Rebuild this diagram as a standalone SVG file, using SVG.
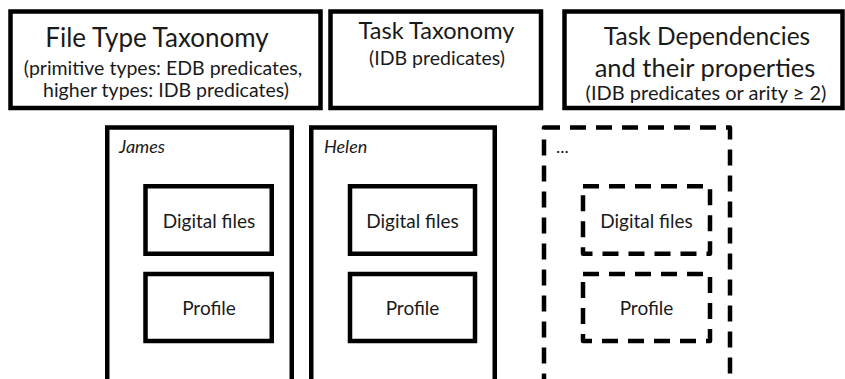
<svg xmlns="http://www.w3.org/2000/svg" width="845" height="379" viewBox="0 0 845 379">
<style>
.b{fill:#fff;stroke:#000;stroke-width:4.5}
.d{fill:#fff;stroke:#000;stroke-width:4.5;stroke-dasharray:16 10;stroke-linejoin:round}
text{font-family:Lato,"Open Sans","Liberation Sans",sans-serif;fill:#1a1a1a;text-anchor:middle}
.t{font-size:25px}
.s{font-size:19.5px}
.i{font-size:19px}
.n{font-size:18px;font-style:italic;text-anchor:start}
</style>
<rect width="845" height="379" fill="#fff"/>
<g id="file-type-taxonomy">
<rect class="b" x="10.5" y="11.5" width="310" height="96.5"/>
<text class="t" x="157" y="47" style="font-size:26px">File Type Taxonomy</text>
<text class="s" x="163" y="75">(primitive types: EDB predicates,</text>
<text class="s" x="166" y="97">higher types: IDB predicates)</text>
</g>
<g id="task-taxonomy">
<rect class="b" x="330.5" y="11.5" width="210.5" height="96.5"/>
<text class="t" x="436.5" y="39" style="font-size:23.6px">Task Taxonomy</text>
<text class="s" x="437" y="65">(IDB predicates)</text>
</g>
<g id="task-dependencies">
<rect class="b" x="564.5" y="11.5" width="278" height="96.5"/>
<text class="t" x="707" y="45" style="font-size:24.5px">Task Dependencies</text>
<text class="t" x="705" y="77" style="font-size:25.5px">and their properties</text>
<text class="s" x="706" y="99.5" style="font-size:20px">(IDB predicates or arity ≥ 2)</text>
</g>
<g id="james">
<rect class="b" x="107.25" y="127.5" width="184.5" height="270"/>
<text class="n" x="119" y="153">James</text>
</g>
<g id="james-digital-files">
<rect class="b" x="145.5" y="186.25" width="126.25" height="67.5"/>
<text class="i" x="209" y="228">Digital files</text>
</g>
<g id="james-profile">
<rect class="b" x="145.5" y="274" width="126.25" height="67"/>
<text class="i" x="209" y="315">Profile</text>
</g>
<g id="helen">
<rect class="b" x="311.25" y="127.5" width="183.5" height="270"/>
<text class="n" x="324" y="153">Helen</text>
</g>
<g id="helen-digital-files">
<rect class="b" x="350" y="186.25" width="125" height="67.5"/>
<text class="i" x="412.5" y="228">Digital files</text>
</g>
<g id="helen-profile">
<rect class="b" x="350" y="274" width="125" height="67"/>
<text class="i" x="412.5" y="315">Profile</text>
</g>
<g id="more">
<rect class="d" x="544" y="127.5" width="186" height="270"/>
<text class="n" x="556" y="153" style="font-style:normal">...</text>
</g>
<g id="more-digital-files">
<rect class="d" x="583" y="186.25" width="127" height="67.5"/>
<text class="i" x="646.5" y="228">Digital files</text>
</g>
<g id="more-profile">
<rect class="d" x="583" y="274" width="127" height="67"/>
<text class="i" x="646.5" y="315">Profile</text>
</g>
<g id="connectors"/>
</svg>
